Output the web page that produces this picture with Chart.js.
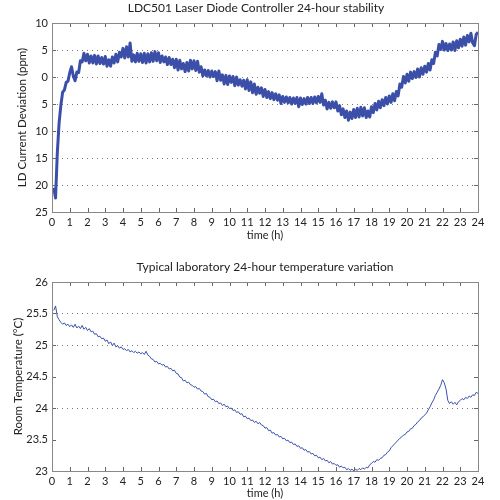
<!DOCTYPE html>
<html><head><meta charset="utf-8">
<script src="https://cdn.jsdelivr.net/npm/chart.js@4/dist/chart.umd.min.js"></script>
<style>
html,body{margin:0;padding:0;background:#fff;}
.box{width:500px;height:250px;position:relative;}
canvas{display:block;}
</style></head><body>
<div class="box"><canvas id="c1" width="500" height="250"></canvas></div>
<div class="box"><canvas id="c2" width="500" height="250"></canvas></div>
<script>
// Sample times (hours), 0.1 h spacing
const hours = [];
for (let i = 1; i <= 240; i++) hours.push(i / 10);

// LD current deviation (ppm)
const ldDeviation = [
 -20.5,-22.4,-14,-8.5,-5.2,-2.8,-2.4,-1.0,-0.8,0.8,
 1.9,0.2,-0.7,0.9,0.8,3.0,2.8,4.4,3.0,4.2,
 2.6,3.9,2.6,4.0,2.4,3.9,2.5,3.6,2.4,3.8,
 2.0,3.2,2.0,3.7,2.6,4.2,2.8,4.6,3.7,5.3,
 3.5,5.6,3.7,6.3,2.9,4.1,2.8,4.4,2.9,4.3,
 2.7,4.4,2.6,4.3,2.8,4.5,2.9,4.7,3.0,4.5,
 2.7,3.9,2.8,3.7,2.3,3.6,2.3,3.3,1.7,3.3,
 1.3,3.1,1.5,2.5,1.0,2.7,1.1,3.1,1.5,3.0,
 1.2,2.9,0.9,1.9,0.2,1.3,0.2,1.2,0.0,1.1,
 0.1,1.0,-0.7,1.1,-0.6,0.4,-1.3,0.3,-1.4,0.2,
 -1.0,0.1,-1.6,0.0,-1.5,-0.5,-1.7,-0.6,-2.2,-0.5,
 -2.5,-0.9,-2.9,-1.3,-3.2,-1.9,-3.0,-2.0,-3.6,-2.3,
 -3.8,-2.7,-4.0,-2.9,-4.2,-3.1,-4.3,-3.3,-4.9,-3.6,
 -4.7,-3.7,-4.8,-3.8,-5.0,-3.9,-4.9,-3.8,-5.5,-3.9,
 -5.1,-4.0,-5.0,-3.8,-4.9,-3.8,-4.9,-3.7,-4.8,-3.6,
 -4.7,-3.1,-5.2,-4.3,-5.9,-4.7,-5.8,-4.6,-5.7,-4.6,
 -6.3,-5.3,-7.0,-5.9,-7.5,-6.3,-8.0,-6.5,-7.7,-6.0,
 -7.5,-5.8,-7.4,-5.6,-7.2,-5.7,-7.5,-6.3,-7.4,-5.5,
 -6.6,-4.9,-6.1,-4.5,-5.7,-4.2,-5.3,-3.8,-5.0,-3.5,
 -4.7,-3.1,-4.4,-2.7,-3.5,-1.3,-1.9,0.1,-1.1,0.5,
 -0.8,0.9,-0.3,1.0,-0.1,1.5,0.0,1.7,0.5,2.0,
 0.9,2.5,1.3,3.2,2.5,4.6,3.9,6.0,5.1,6.6,
 5.0,6.2,4.9,6.1,5.0,6.5,4.9,6.7,5.4,7.0,
 5.7,7.4,5.9,7.7,6.5,8.1,6.3,5.8,7.9,8.3
];

// Room temperature (°C)
const roomTemp = [
 25.55,25.62,25.45,25.40,25.36,25.33,25.35,25.31,25.33,25.29,
 25.32,25.28,25.33,25.27,25.30,25.26,25.31,25.25,25.28,25.23,
 25.26,25.21,25.22,25.17,25.18,25.13,25.14,25.10,25.11,25.06,
 25.08,25.02,25.05,24.99,25.03,24.97,24.99,24.95,24.97,24.93,
 24.94,24.91,24.93,24.89,24.91,24.88,24.90,24.87,24.89,24.86,
 24.88,24.85,24.90,24.84,24.82,24.78,24.77,24.73,24.74,24.70,
 24.71,24.68,24.69,24.65,24.66,24.62,24.63,24.59,24.60,24.55,
 24.54,24.49,24.48,24.43,24.44,24.40,24.41,24.37,24.36,24.33,
 24.34,24.30,24.31,24.27,24.26,24.22,24.23,24.18,24.17,24.13,
 24.14,24.10,24.11,24.07,24.08,24.04,24.06,24.02,24.03,23.99,
 24.00,23.96,23.97,23.93,23.94,23.90,23.91,23.86,23.87,23.83,
 23.84,23.80,23.81,23.77,23.79,23.75,23.77,23.73,23.72,23.68,
 23.69,23.64,23.65,23.60,23.61,23.57,23.58,23.54,23.55,23.51,
 23.52,23.48,23.49,23.45,23.46,23.42,23.43,23.39,23.40,23.36,
 23.37,23.33,23.34,23.30,23.31,23.27,23.28,23.24,23.25,23.21,
 23.22,23.18,23.20,23.16,23.17,23.13,23.15,23.11,23.12,23.09,
 23.10,23.06,23.08,23.05,23.06,23.02,23.04,23.01,23.03,23.00,
 23.03,23.01,23.04,23.02,23.05,23.03,23.06,23.05,23.10,23.12,
 23.15,23.14,23.18,23.17,23.20,23.21,23.25,23.26,23.30,23.32,
 23.37,23.40,23.43,23.46,23.49,23.52,23.54,23.57,23.58,23.62,
 23.63,23.67,23.68,23.72,23.74,23.78,23.80,23.84,23.86,23.89,
 23.92,23.97,24.02,24.08,24.13,24.20,24.25,24.30,24.36,24.45,
 24.40,24.30,24.12,24.07,24.10,24.06,24.09,24.05,24.10,24.12,
 24.15,24.13,24.17,24.15,24.19,24.17,24.21,24.20,24.25,24.23
];

const titles = ["LDC501 Laser Diode Controller 24-hour stability", "Typical laboratory 24-hour temperature variation"];
const yTitles = ["LD Current Deviation (ppm)", "Room Temperature (\u00B0C)"];
const xTitle = "time (h)";
const topGridValues = [5, 0, -5, -10, -15, -20];
const bottomGridValues = [25.5, 25, 24];

const FONT = "Lato";
const TXT = "#222";
const LINE = "#3b4fa8";

const frame = {
  id: 'frame',
  beforeDatasetsDraw(chart, args, o) {
    const {ctx, chartArea: a, scales} = chart;
    ctx.save();
    ctx.strokeStyle = '#777';
    ctx.lineWidth = 1;
    ctx.setLineDash([1, 4]);
    ctx.beginPath();
    o.grid.forEach(v => {
      const py = Math.round(scales.y.getPixelForValue(v)) + 0.5;
      ctx.moveTo(a.left + 5, py); ctx.lineTo(a.right - 5, py);
    });
    ctx.stroke();
    ctx.restore();
  },
  afterDatasetsDraw(chart, args, o) {
    const {ctx, chartArea: a, scales} = chart;
    ctx.save();
    ctx.strokeStyle = '#666';
    ctx.lineWidth = 1;
    ctx.beginPath();
    scales.x.ticks.forEach(t => {
      const px = Math.round(scales.x.getPixelForValue(t.value)) + 0.5;
      ctx.moveTo(px, a.bottom); ctx.lineTo(px, a.bottom - 4);
      ctx.moveTo(px, a.top); ctx.lineTo(px, a.top + 4);
    });
    scales.y.ticks.forEach(t => {
      const py = Math.round(scales.y.getPixelForValue(t.value)) + 0.5;
      ctx.moveTo(a.left, py); ctx.lineTo(a.left + 4, py);
      ctx.moveTo(a.right, py); ctx.lineTo(a.right - 4, py);
    });
    ctx.stroke();
    ctx.strokeStyle = '#888';
    ctx.strokeRect(Math.round(a.left) + 0.5, Math.round(a.top) + 0.5, Math.round(a.right - a.left), Math.round(a.bottom - a.top));
    // chart title
    ctx.fillStyle = TXT;
    ctx.font = '12px ' + FONT;
    ctx.textAlign = 'center';
    ctx.textBaseline = 'middle';
    ctx.fillText(o.text, o.cx, o.cy);
    ctx.restore();
  }
};

function makeChart(id, values, opts) {
  return new Chart(document.getElementById(id), {
    type: 'line',
    data: { datasets: [{
      data: hours.map((h, i) => ({x: h, y: values[i]})),
      borderColor: LINE, borderWidth: opts.lw, borderJoinStyle: 'round',
      pointRadius: 0, tension: 0, fill: false
    }]},
    options: {
      responsive: false, animation: false, devicePixelRatio: 1,
      layout: { padding: { left: 0, right: 22, top: opts.padTop, bottom: 0 } },
      plugins: {
        legend: { display: false }, tooltip: { enabled: false }, title: { display: false },
        frame: { text: opts.title, cx: opts.titleX, cy: opts.titleY, grid: opts.grid }
      },
      scales: {
        x: { type: 'linear', min: 0, max: 24,
          border: { display: false },
          grid: { display: false, drawTicks: false },
          ticks: { stepSize: 1, color: TXT, font: { family: FONT, size: 11 }, padding: 4, maxRotation: 0, autoSkip: false },
          title: { display: true, text: xTitle, color: TXT, font: { family: FONT, size: 11 }, padding: { top: 0, bottom: opts.xTitleBottom } },
          afterFit(s) { s.height = opts.xHeight; }
        },
        y: { min: opts.ymin, max: opts.ymax,
          border: { display: false },
          grid: { display: false, drawTicks: false },
          ticks: { stepSize: opts.step, color: TXT, font: { family: FONT, size: 11 }, padding: 4,
            callback: opts.tickCb },
          title: { display: true, text: opts.yTitle, color: TXT, font: { family: FONT, size: 11.5 }, padding: { top: opts.yTitlePad, bottom: 0 } },
          afterFit(s) { s.width = 52; }
        }
      }
    },
    plugins: [frame]
  });
}

makeChart('c1', ldDeviation, {
  title: titles[0], titleX: 256, titleY: 8, yTitle: yTitles[0], yTitlePad: 15, lw: 3,
  ymin: -25, ymax: 10, step: 5, grid: topGridValues,
  tickCb: v => String(Math.abs(v)),
  padTop: 23, xHeight: 38, xTitleBottom: 8
});
makeChart('c2', roomTemp, {
  title: titles[1], titleX: 265, titleY: 17, yTitle: yTitles[1], yTitlePad: 11, lw: 1,
  ymin: 23, ymax: 26, step: 0.5, grid: bottomGridValues,
  tickCb: v => String(v),
  padTop: 32, xHeight: 29, xTitleBottom: 0
});
</script>
</body></html>
